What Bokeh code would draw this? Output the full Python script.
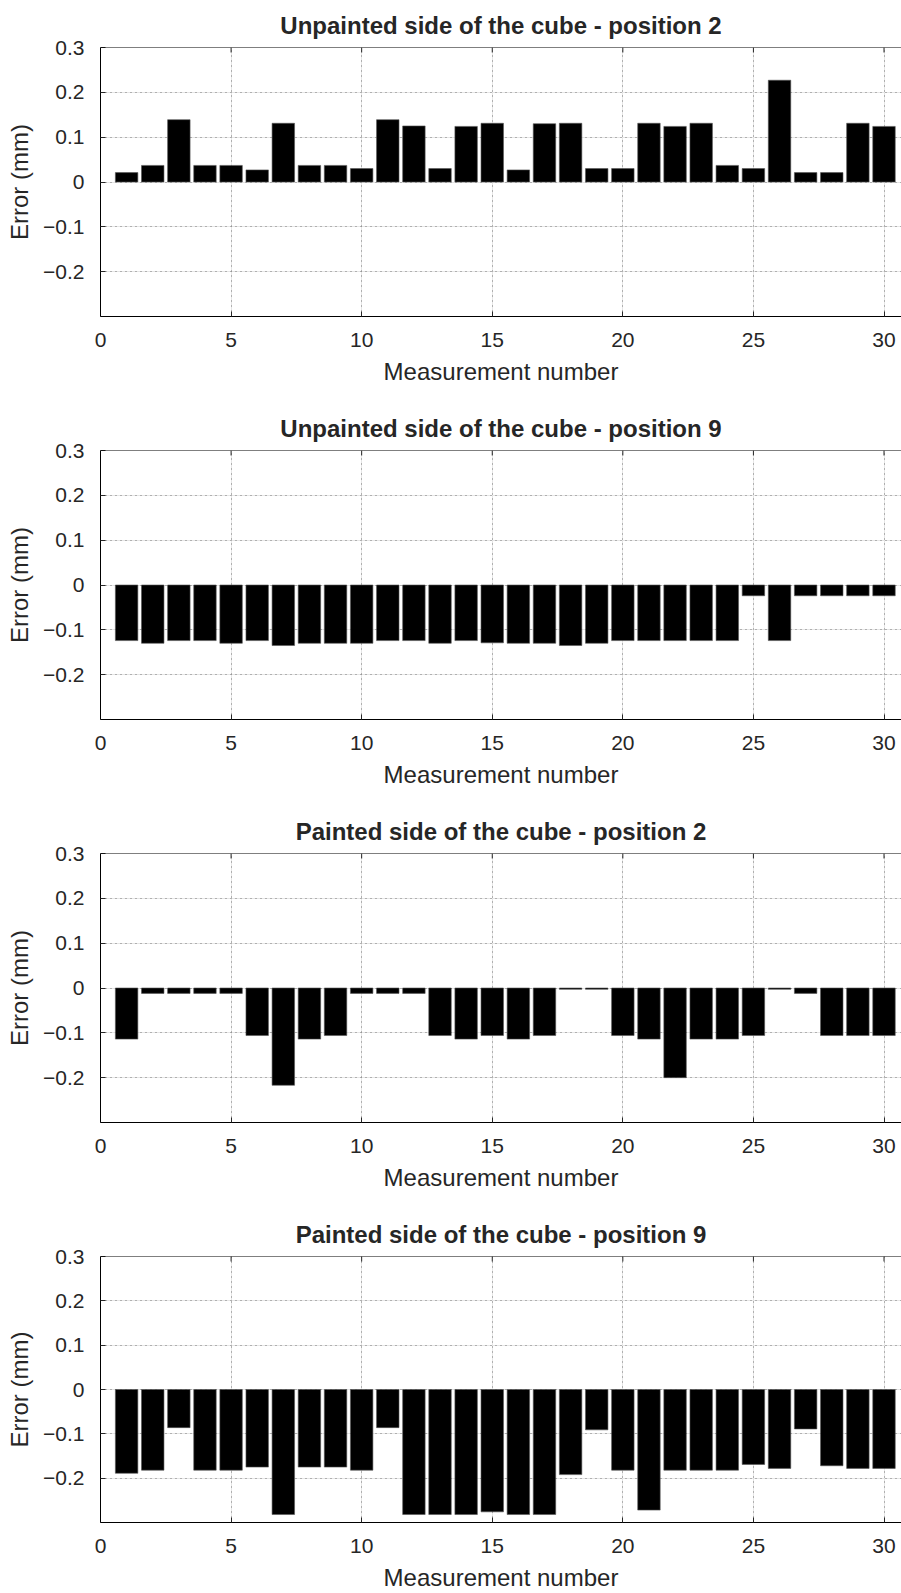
import math
from bokeh.plotting import figure
from bokeh.layouts import column
from bokeh.models import FixedTicker, LinearAxis, Range1d, Title, Grid, Span
from bokeh.embed import file_html
from bokeh.resources import INLINE

measurement = list(range(1, 31))

unpainted_pos2 = [0.021, 0.037, 0.139, 0.037, 0.037, 0.027, 0.131, 0.037, 0.037, 0.030,
                  0.139, 0.125, 0.030, 0.124, 0.131, 0.027, 0.130, 0.131, 0.030, 0.030,
                  0.131, 0.124, 0.131, 0.037, 0.030, 0.227, 0.021, 0.021, 0.131, 0.124]
unpainted_pos9 = [-0.124, -0.130, -0.124, -0.124, -0.130, -0.124, -0.135, -0.130, -0.130, -0.130,
                  -0.124, -0.124, -0.130, -0.124, -0.129, -0.130, -0.130, -0.135, -0.130, -0.124,
                  -0.124, -0.124, -0.124, -0.124, -0.024, -0.124, -0.024, -0.024, -0.024, -0.024]
painted_pos2 = [-0.114, -0.012, -0.012, -0.012, -0.012, -0.106, -0.217, -0.114, -0.106, -0.012,
                -0.012, -0.012, -0.106, -0.114, -0.106, -0.114, -0.106, -0.003, -0.003, -0.106,
                -0.114, -0.200, -0.114, -0.114, -0.106, -0.003, -0.012, -0.106, -0.106, -0.106]
painted_pos9 = [-0.189, -0.182, -0.086, -0.182, -0.182, -0.175, -0.282, -0.175, -0.175, -0.182,
                -0.086, -0.282, -0.282, -0.282, -0.276, -0.282, -0.282, -0.192, -0.091, -0.182,
                -0.272, -0.182, -0.182, -0.182, -0.169, -0.178, -0.089, -0.172, -0.178, -0.178]

titles = ["Unpainted side of the cube - position 2",
          "Unpainted side of the cube - position 9",
          "Painted side of the cube - position 2",
          "Painted side of the cube - position 9"]
series = [unpainted_pos2, unpainted_pos9, painted_pos2, painted_pos9]

x_ticks = [0, 5, 10, 15, 20, 25, 30]
y_ticks = [-0.2, -0.1, 0, 0.1, 0.2, 0.3]
x_label = "Measurement number"
y_label = "Error (mm)"

FONT = "Liberation Sans"
TXT = "#262626"
Y_MIN, Y_MAX = -0.3, 0.3
X_MIN, X_MAX = 0, 30.67


def make_panel(title, values, height, bottom_border):
    p = figure(width=901, height=height,
               x_range=Range1d(X_MIN, X_MAX), y_range=Range1d(Y_MIN, Y_MAX),
               output_backend="svg", toolbar_location=None,
               x_axis_location=None, y_axis_location=None,
               min_border_left=100, min_border_right=0,
               min_border_top=47, min_border_bottom=bottom_border)
    p.outline_line_color = None
    p.background_fill_color = "white"
    p.border_fill_color = "white"

    xt = FixedTicker(ticks=x_ticks)
    yt = FixedTicker(ticks=y_ticks)

    bottom = LinearAxis(ticker=xt, axis_label=x_label)
    left = LinearAxis(ticker=yt, axis_label=y_label, major_label_overrides={0: "0"})
    for ax in (bottom, left):
        ax.major_tick_in = 5
        ax.major_tick_out = 0
        ax.minor_tick_line_color = None
        ax.axis_line_color = "black"
        ax.axis_line_width = 1
        ax.major_tick_line_color = "#262626"
        ax.major_label_text_font = FONT
        ax.major_label_text_font_size = "21px"
        ax.major_label_text_color = TXT
        ax.axis_label_text_font = FONT
        ax.axis_label_text_font_size = "24px"
        ax.axis_label_text_font_style = "normal"
        ax.axis_label_text_color = TXT
    bottom.major_label_standoff = 16
    bottom.axis_label_standoff = 8
    left.major_label_standoff = 16
    left.axis_label_standoff = 7
    p.add_layout(bottom, "below")
    p.add_layout(left, "left")

    for dim, tk in ((0, xt), (1, yt)):
        g = Grid(dimension=dim, ticker=tk)
        g.grid_line_color = "#7a7a7a"
        g.grid_line_dash = "1 4"
        g.grid_line_width = 1
        p.add_layout(g)

    # top border of the box and its inward ticks
    p.add_layout(Span(location=Y_MAX, dimension="width", line_color="black", line_width=1))
    p.ray(x=x_ticks, y=[Y_MAX] * len(x_ticks), length=5, length_units="screen",
          angle=-math.pi / 2, line_color="#262626", line_width=1)

    p.vbar(x=measurement, top=values, bottom=0, width=0.86,
           fill_color="black", line_color="#555555", line_width=0.6)

    p.title = Title(text=title, align="center", offset=6,
                    text_font=FONT, text_font_size="24px", text_font_style="bold",
                    text_color=TXT, standoff=17)
    return p


heights = [403, 403, 403, 384]
borders = [87, 87, 87, 68]
panels = [make_panel(t, v, h, b) for t, v, h, b in zip(titles, series, heights, borders)]
layout = column(*panels, spacing=0)

open("out.html", "w").write(file_html(layout, INLINE))
